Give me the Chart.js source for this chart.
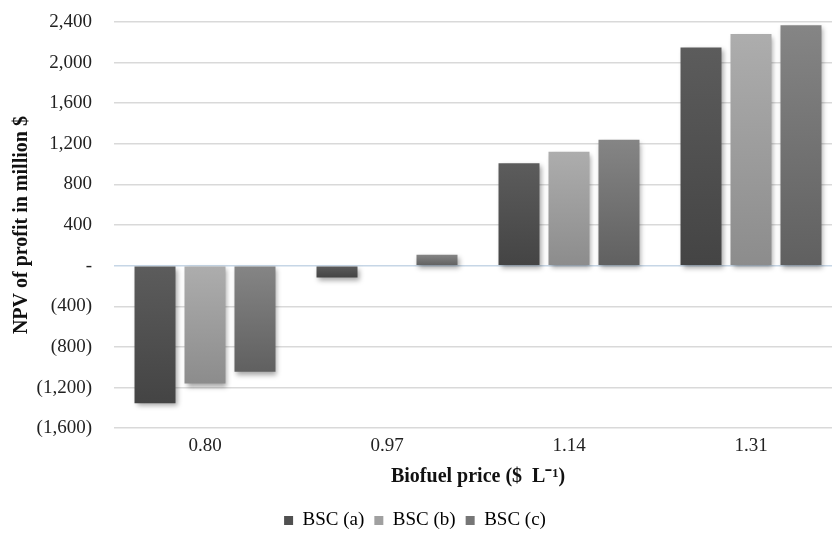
<!DOCTYPE html>
<html>
<head>
<meta charset="utf-8">
<script src="https://cdn.jsdelivr.net/npm/chart.js@4/dist/chart.umd.min.js"></script>
<style>
html,body{margin:0;padding:0;background:#fff;overflow:hidden;}
#wrap{width:842px;height:543px;}
</style>
</head>
<body>
<div id="wrap"><canvas id="c" width="842" height="543"></canvas></div>
<script>
const categories = ["0.80", "0.97", "1.14", "1.31"];
const seriesNames = ["BSC (a)", "BSC (b)", "BSC (c)"];
const bscA = [-1355, -115, 1010, 2150];
const bscB = [-1160, -8, 1122, 2283];
const bscC = [-1045, 108, 1241, 2369];
const yTicks = [-1600, -1200, -800, -400, 0, 400, 800, 1200, 1600, 2000, 2400];

const topColors = ["#5c5c5c", "#adadad", "#858585"];
const botColors = ["#444444", "#8c8c8c", "#606060"];
const solidColors = ["#505050", "#a0a0a0", "#767676"];
const SERIF = "'Liberation Serif', 'Times New Roman', serif";

function gradFor(i) {
  return function(ctx) {
    const chart = ctx.chart;
    if (!chart.chartArea || ctx.type !== 'data') return solidColors[i];
    const ys = chart.scales.y;
    const v = ctx.raw;
    const p1 = ys.getPixelForValue(v), p0 = ys.getPixelForValue(0);
    const t = Math.min(p1, p0), b = Math.max(p1, p0);
    if (!(b > t)) return solidColors[i];
    const g = chart.ctx.createLinearGradient(0, t, 0, b);
    g.addColorStop(0, topColors[i]);
    g.addColorStop(1, botColors[i]);
    return g;
  };
}

function fmt(v) {
  if (v === 0) return "-";
  const s = Math.abs(v).toLocaleString("en-US");
  return v < 0 ? "(" + s + ")" : s;
}

const shadowPlugin = {
  id: 'shadow',
  afterLayout(chart) {
    if (chart.legend) { chart.legend.left -= 10; chart.legend.right -= 10; }
  },
  beforeDatasetsDraw(chart) {
    const c = chart.ctx;
    c.save();
    c.shadowColor = 'rgba(0,0,0,0.35)';
    c.shadowBlur = 5;
    c.shadowOffsetX = 2;
    c.shadowOffsetY = 3;
  },
  afterDatasetsDraw(chart) {
    chart.ctx.restore();
  }
};

const data = {
  labels: categories,
  datasets: [bscA, bscB, bscC].map((d, i) => ({
    label: seriesNames[i],
    data: d,
    backgroundColor: gradFor(i),
    borderWidth: 0,
    categoryPercentage: 0.824,
    barPercentage: 0.82
  }))
};

new Chart(document.getElementById('c'), {
  type: 'bar',
  data: data,
  plugins: [shadowPlugin],
  options: {
    responsive: false,
    animation: false,
    layout: { padding: { top: 0, right: 0, left: 8, bottom: 3 } },
    plugins: {
      tooltip: { enabled: false },
      legend: {
        position: 'bottom',
        labels: {
          font: { family: SERIF, size: 19 },
          color: '#222',
          boxWidth: 9,
          boxHeight: 9,
          padding: 10,
          generateLabels(chart) {
            return chart.data.datasets.map((ds, i) => ({
              text: ds.label,
              fillStyle: solidColors[i],
              strokeStyle: solidColors[i],
              lineWidth: 0,
              datasetIndex: i,
              hidden: false
            }));
          }
        }
      }
    },
    scales: {
      x: {
        grid: { display: false, drawTicks: false },
        border: { display: false },
        ticks: {
          font: { family: SERIF, size: 19 },
          color: '#222',
          padding: 6
        },
        title: {
          display: true,
          text: 'Biofuel price ($  L\u207B\u00B9)',
          font: { family: SERIF, size: 20, weight: 'bold' },
          color: '#111',
          padding: { top: 2, bottom: 12 }
        }
      },
      y: {
        min: -1600,
        max: 2400,
        afterBuildTicks(axis) { axis.ticks = yTicks.map(v => ({ value: v })); },
        afterFit(axis) { axis.width = 106; axis.paddingTop = 22; axis.paddingBottom = 12; },
        grid: {
          drawTicks: false,
          color: (ctx) => (ctx.tick && ctx.tick.value === 0) ? '#c6d6e6' : '#d9d9d9',
          lineWidth: 1.5
        },
        border: { display: false },
        ticks: {
          font: { family: SERIF, size: 19 },
          color: '#222',
          padding: 22,
          callback: (v) => fmt(v)
        },
        title: {
          display: true,
          text: 'NPV of profit in million $',
          font: { family: SERIF, size: 20, weight: 'bold' },
          color: '#111',
          padding: { top: 2, bottom: 4 }
        }
      }
    }
  }
});
</script>
</body>
</html>
